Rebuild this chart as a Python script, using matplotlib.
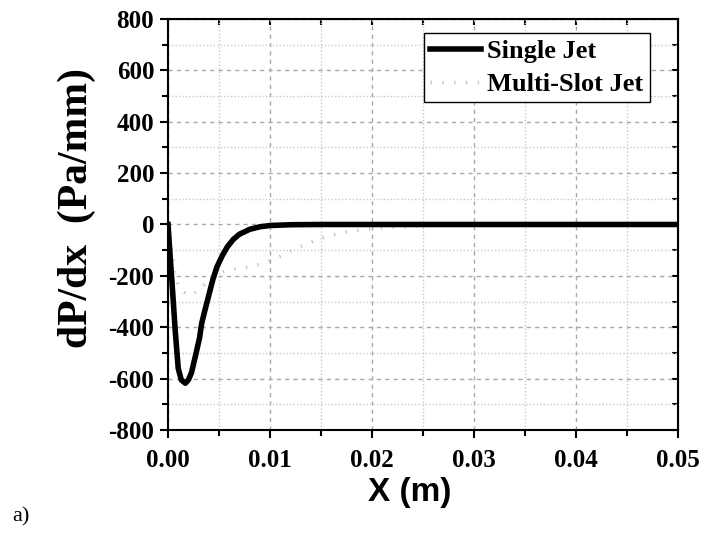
import matplotlib
matplotlib.use('Agg')
import matplotlib.pyplot as plt
from matplotlib.ticker import MultipleLocator

# single jet
single_x = [0, 0.0002, 0.0004, 0.0007, 0.001, 0.0013, 0.0017, 0.002, 0.0023, 0.0027,
            0.0031, 0.0033, 0.0036, 0.004, 0.0044, 0.0048, 0.0053, 0.0058, 0.0064,
            0.007, 0.008, 0.009, 0.01, 0.012, 0.015, 0.02, 0.03, 0.04, 0.05]
single_y = [0, -120, -230, -410, -560, -605, -618, -605, -577, -510,
            -440, -385, -337, -275, -214, -165, -123, -88, -58,
            -38, -19, -9, -4, -1, 0, 0, 0, 0, 0]

# multi-slot jet
multi_x = [0, 0.0002, 0.0004, 0.0007, 0.001, 0.0015, 0.002, 0.0025, 0.003, 0.0038,
           0.0048, 0.0058, 0.007, 0.008, 0.009, 0.0107, 0.0123, 0.0139, 0.0156,
           0.0178, 0.0208, 0.0244, 0.028, 0.035, 0.05]
multi_y = [0, -60, -110, -195, -235, -262, -275, -270, -255, -225,
           -195, -178, -170, -165, -155, -130, -98, -70, -46,
           -26, -13, -6, -2, 0, 0]

xticks = [0.00, 0.01, 0.02, 0.03, 0.04, 0.05]
yticks = [-800, -600, -400, -200, 0, 200, 400, 600, 800]

serif = 'Liberation Serif'

fig = plt.figure(figsize=(7.03, 5.35), dpi=100)
ax = fig.add_axes([0.239, 0.1963, 0.7254, 0.7682])

ax.plot(multi_x, multi_y, color='#c4c4c4', lw=2.5, linestyle=(0, (0.4, 3.0)),
        label='Multi-Slot Jet', zorder=3)
ax.plot(single_x, single_y, color='black', lw=4, label='Single Jet', zorder=4)

ax.set_xlim(0, 0.05)
ax.set_ylim(-800, 800)
ax.set_xticks(xticks)
ax.set_yticks(yticks)
ax.set_xticklabels(['%.2f' % v for v in xticks])
ax.set_yticklabels(['%d' % v for v in yticks])
ax.xaxis.set_minor_locator(MultipleLocator(0.005))
ax.yaxis.set_minor_locator(MultipleLocator(100))

ax.grid(which='major', color='#a8a8a8', linestyle=(0, (3, 3)), lw=1.0)
ax.grid(which='minor', color='#c8c8c8', linestyle=(0, (1, 1.5)), lw=1.0)
ax.set_axisbelow(True)

for s in ax.spines.values():
    s.set_linewidth(1.5)

ax.tick_params(which='major', direction='out', length=6, width=1.5,
               top=False, right=False)
ax.tick_params(which='minor', direction='out', length=4, width=1.5)
ax.tick_params(axis='x', which='major', pad=8)
ax.tick_params(axis='y', which='major', pad=4)
ax2 = ax.secondary_xaxis('top')
ax2.set_xticks(xticks)
ax2.xaxis.set_minor_locator(MultipleLocator(0.005))
ax2.tick_params(which='both', direction='in', length=4, width=1.5, labeltop=False)
ax3 = ax.secondary_yaxis('right')
ax3.set_yticks(yticks)
ax3.yaxis.set_minor_locator(MultipleLocator(100))
ax3.tick_params(which='both', direction='in', length=4, width=1.5, labelright=False)

for lab in ax.get_xticklabels() + ax.get_yticklabels():
    lab.set_fontfamily(serif)
    lab.set_fontweight('bold')
    lab.set_fontsize(18)

ax.set_xlabel('X (m)', family='Liberation Sans', fontweight='bold', fontsize=24)
ax.xaxis.set_label_coords(0.4745, -0.115)
ax.set_ylabel('dP/dx  (Pa/mm)', family=serif, fontweight='bold', fontsize=30)
ax.yaxis.set_label_coords(-0.142, 0.54)

handles, labels = ax.get_legend_handles_labels()
leg = ax.legend(handles[::-1], labels[::-1], loc='upper right',
                bbox_to_anchor=(0.945, 0.966), borderaxespad=0,
                prop={'family': serif, 'weight': 'bold', 'size': 19},
                fancybox=False, framealpha=1, edgecolor='black',
                handlelength=1.9, handletextpad=0.25, labelspacing=0.35,
                borderpad=0.25)
leg.get_frame().set_linewidth(1.0)

fig.text(0.017, 0.025, 'a)', family=serif, fontsize=16)

fig.savefig('out.png', dpi=100)
